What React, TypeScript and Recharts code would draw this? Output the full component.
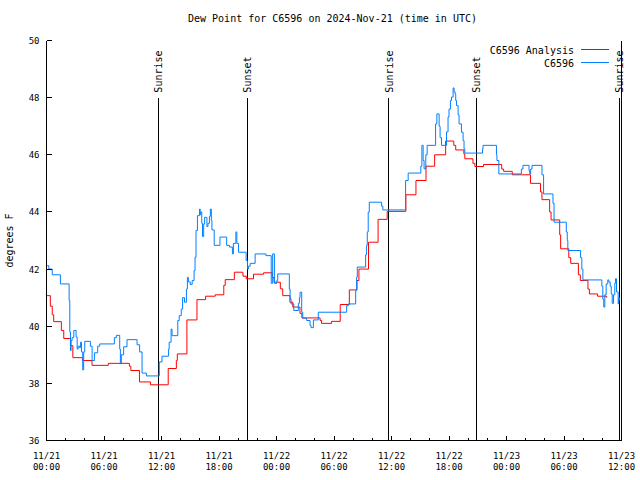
import React from 'react';
import { LineChart, Line, XAxis, YAxis, ReferenceLine, Legend } from 'recharts';

// C6596 Analysis (red), hours since 11/21 00:00 UTC
const analysisHours = [
  0, 0.4, 0.6, 0.75, 1.55, 1.8, 2.5, 2.75, 3.75, 4.75, 6.45, 8.65, 8.8, 9.7, 10.85,
  12.7, 13.55, 13.65, 14.65, 15.7, 16.6, 17.6, 18.5, 18.65, 19.6, 20.5, 20.85, 21.6,
  22.65, 23.55, 23.75, 24.4, 24.65, 25.4, 25.7, 26.45, 26.65, 28.55, 28.7, 29.75,
  30.65, 31.6, 32.4, 32.6, 33.6, 34.6, 35.55, 37.5, 38.55, 39.6, 40.5, 41.65, 42.5,
  42.7, 43.55, 43.65, 44.5, 44.7, 45.6, 47.5, 47.7, 48.6, 50.5, 51.55, 51.7, 52.5,
  52.65, 53.55, 53.65, 54.5, 54.7, 55.5, 55.7, 56.5, 56.65, 57.5, 58.45,
];
const analysisTemps = [
  41.07, 40.7, 40.4, 40.16, 39.85, 39.57, 39.32, 38.9, 38.8, 38.63, 38.7, 38.6, 38.45, 38.05, 37.95,
  38.52, 38.8, 39.03, 40.22, 40.93, 41.05, 41.1, 41.43, 41.63, 41.89, 41.75, 41.66, 41.82,
  41.87, 41.7, 41.54, 41.31, 41.07, 40.84, 40.67, 40.45, 40.29, 40.2, 40.1, 40.17,
  40.76, 41.27, 41.6, 42.0, 42.94, 43.74, 44.02, 44.6, 45.1, 45.6, 46.0, 46.48, 46.33,
  46.17, 46.03, 45.86, 45.7, 45.59, 45.66, 45.5, 45.42, 45.3, 45.0, 44.7, 44.43, 44.0,
  43.72, 43.2, 42.71, 42.4, 42.2, 41.8, 41.6, 41.3, 41.13, 41.05, 41.0,
];

// C6596 observations (blue)
const obsHours = [
  0.07, 0.24, 0.6, 1.45, 2.36, 2.43, 2.5, 2.57, 2.67, 2.85, 3.09, 3.2, 3.3, 3.44, 3.54,
  3.65, 3.78, 3.88, 3.99, 4.58, 4.76, 5.0, 5.34, 5.55, 7.08, 7.29, 7.64, 7.71, 7.81,
  8.05, 8.4, 9.45, 9.72, 9.97, 10.42, 11.77, 12.05, 12.74, 12.8, 13.0, 13.1, 13.7,
  13.85, 14.06, 14.2, 14.4, 14.6, 14.7, 14.8, 15.0, 15.2, 15.4, 15.5, 15.6, 15.75,
  15.97, 16.04, 16.1, 16.2, 16.28, 16.4, 16.5, 16.74, 16.85, 17.0, 17.1, 17.2, 17.26,
  17.5, 18.1, 18.8, 19.1, 19.4, 19.5, 19.76, 19.86, 20.03, 20.83, 20.97, 21.07, 21.25,
  21.77, 22.9, 23.45, 23.6, 23.78, 24.03, 24.13, 25.34, 25.42, 25.52, 25.8, 26.28,
  26.39, 26.46, 26.63, 26.74, 27.15, 27.5, 27.6, 27.85, 28.36, 31.32, 31.5, 32.26,
  32.36, 32.43, 33.3, 33.4, 33.47, 33.57, 33.68, 34.97, 35.1, 37.47, 37.74, 39.06,
  39.17, 39.3, 39.4, 39.58, 39.72, 40.6, 40.73, 40.97, 41.07, 41.22, 41.74, 41.9,
  42.0, 42.15, 42.26, 42.43, 42.53, 42.64, 42.7, 42.78, 42.95, 43.05, 43.3, 43.47,
  43.57, 43.65, 45.5, 45.55, 46.95, 47.0, 47.2, 49.55, 49.72, 50.35, 50.42, 50.52,
  50.66, 51.7, 51.87, 52.85, 52.96, 54.24, 54.34, 54.4, 55.73, 55.86, 55.97, 57.95,
  58.05, 58.15, 58.26, 58.4, 58.57, 58.68, 58.82, 58.93, 59.03, 59.17, 59.3, 59.37,
  59.48, 59.65, 59.7, 59.8,
];
const obsTemps = [
  42.12, 42.0, 41.8, 41.48, 40.9, 39.8, 39.15, 39.5, 39.6, 39.85, 39.62, 39.2, 39.3, 39.25, 39.44,
  39.1, 38.47, 39.1, 39.47, 39.3, 38.8, 39.07, 39.3, 39.38, 39.6, 39.68, 39.2, 38.7, 39.0,
  39.28, 39.53, 39.35, 39.1, 38.36, 38.26, 38.75, 38.95, 39.2, 39.44, 39.9, 39.67, 40.2,
  40.37, 40.6, 41.0, 40.84, 41.3, 41.71, 41.55, 41.46, 41.6, 41.95, 42.41, 43.35, 43.87,
  44.1, 43.9, 44.0, 43.6, 43.14, 43.58, 43.81, 43.49, 43.6, 43.85, 44.1, 43.7, 43.37,
  42.83, 43.12, 42.83, 42.77, 42.53, 42.9, 43.3, 42.9, 42.59, 42.3, 42.0, 42.1, 42.2,
  42.53, 42.47, 41.5, 42.53, 41.5, 41.6, 41.83, 41.3, 40.96, 40.78, 40.55, 40.8,
  41.0, 41.19, 40.49, 40.28, 40.2, 40.03, 39.95, 40.22, 40.49, 40.72, 40.78, 41.25,
  41.72, 42.07, 42.5, 42.83, 43.3, 43.99, 44.34, 44.2, 44.07, 45.1, 45.36, 45.6,
  46.33, 45.8, 45.51, 46.0, 46.33, 47.08, 47.43, 47.0, 46.6, 46.33, 46.8, 47.32,
  47.6, 47.9, 48.02, 48.34, 48.2, 48.13, 47.9, 47.72, 47.4, 47.08, 46.79, 46.5,
  46.21, 46.06, 46.2, 46.33, 46.0, 45.8, 45.33, 45.5, 45.63, 45.45, 45.33, 45.5,
  45.63, 45.3, 44.63, 44.3, 43.64, 43.3, 43.0, 42.65, 42.4, 42.0, 41.62, 41.4,
  40.95, 40.67, 41.1, 41.48, 41.62, 41.55, 41.4, 41.13, 40.8, 41.1, 41.5, 41.66,
  41.2, 40.78, 41.0, 40.9,
];

const seriesNames = ['C6596 Analysis', 'C6596'];

const sunHours = [11.67, 20.94, 35.73, 44.86, 59.79];
const sunLabels = ['Sunrise', 'Sunset', 'Sunrise', 'Sunset', 'Sunrise'];

const majorTicks = [0, 6, 12, 18, 24, 30, 36, 42, 48, 54, 60];
const tickDates = ['11/21', '11/21', '11/21', '11/21', '11/22', '11/22', '11/22', '11/22', '11/23', '11/23', '11/23'];
const tickTimes = ['00:00', '06:00', '12:00', '18:00', '00:00', '06:00', '12:00', '18:00', '00:00', '06:00', '12:00'];
const xTicks = Array.from({ length: 31 }, (_, i) => i * 2);
const yTicks = [36, 38, 40, 42, 44, 46, 48, 50];

const analysisData = analysisHours.map((h, i) => ({ h, v: analysisTemps[i] }));
const obsData = obsHours.map((h, i) => ({ h, v: obsTemps[i] }));

const FONT = '"DejaVu Sans Mono", monospace';

const BottomTick = (props: any) => {
  const { x, y, payload } = props;
  const idx = majorTicks.indexOf(payload.value);
  const major = idx >= 0;
  return (
    <g>
      <line x1={x} y1={y} x2={x} y2={y - (major ? 5 : 3)} stroke="#000" shapeRendering="crispEdges" />
      {major && (
        <text x={x} y={y + 18} textAnchor="middle" fontFamily={FONT} fontSize={9} fill="#000">
          <tspan x={x}>{tickDates[idx]}</tspan>
          <tspan x={x} dy={11}>{tickTimes[idx]}</tspan>
        </text>
      )}
    </g>
  );
};

const TopTick = (props: any) => {
  const { x, y, payload } = props;
  const major = majorTicks.includes(payload.value);
  return <line x1={x} y1={y} x2={x} y2={y + (major ? 5 : 3)} stroke="#000" shapeRendering="crispEdges" />;
};

const LeftTick = (props: any) => {
  const { x, y, payload } = props;
  return (
    <g>
      <line x1={x} y1={y} x2={x + 5} y2={y} stroke="#000" shapeRendering="crispEdges" />
      <text x={x - 7} y={y + 3.5} textAnchor="end" fontFamily={FONT} fontSize={9} fill="#000">
        {payload.value}
      </text>
    </g>
  );
};

const RightTick = (props: any) => {
  const { x, y } = props;
  return <line x1={x} y1={y} x2={x - 5} y2={y} stroke="#000" shapeRendering="crispEdges" />;
};

const SunLabel = (props: any) => {
  const { viewBox, text } = props;
  if (!viewBox) return null;
  return (
    <text
      transform={`translate(${viewBox.x + 4},${viewBox.y - 5}) rotate(-90)`}
      fontFamily={FONT}
      fontSize={10}
      fill="#000"
    >
      {text}
    </text>
  );
};

const renderLegend = (props: any) => {
  const payload = props.payload || [];
  const ordered = seriesNames
    .map((n) => payload.find((p: any) => p.value === n))
    .filter(Boolean);
  return (
    <svg width={640} height={75} style={{ display: 'block' }}>
      {ordered.map((entry: any, i: number) => (
        <g key={`leg-${i}`}>
          <text x={574} y={54 + i * 13} textAnchor="end" fontFamily={FONT} fontSize={10} fill="#000">
            {entry.value}
          </text>
          <line x1={581} x2={609} y1={49.5 + i * 13} y2={49.5 + i * 13} stroke={entry.color} />
        </g>
      ))}
    </svg>
  );
};

export default function App() {
  return (
    <div style={{ position: 'absolute', left: 0, top: 0, width: 640, height: 480, background: '#fff' }}>
      <LineChart width={640} height={480} margin={{ top: 40.5, right: 0, bottom: 0, left: 0 }}>
        <XAxis
          dataKey="h"
          type="number"
          domain={[0, 60]}
          ticks={xTicks}
          interval={0}
          allowDataOverflow
          height={39.5}
          tickSize={0}
          tickMargin={0}
          axisLine={{ stroke: '#000', shapeRendering: 'crispEdges' }}
          tick={<BottomTick />}
        />
        <XAxis
          xAxisId="top"
          orientation="top"
          dataKey="h"
          type="number"
          domain={[0, 60]}
          ticks={xTicks}
          interval={0}
          height={0}
          tickSize={0}
          tickMargin={0}
          axisLine={{ stroke: '#000', shapeRendering: 'crispEdges' }}
          tick={<TopTick />}
        />
        <YAxis
          type="number"
          domain={[36, 50]}
          ticks={yTicks}
          interval={0}
          allowDataOverflow
          width={46.5}
          tickSize={0}
          tickMargin={0}
          axisLine={{ stroke: '#000', shapeRendering: 'crispEdges' }}
          tick={<LeftTick />}
          label={{
            value: 'degrees F',
            angle: -90,
            position: 'insideLeft',
            offset: 0,
            style: { fontFamily: FONT, fontSize: 10, fill: '#000', textAnchor: 'middle' },
            dx: 9,
          }}
        />
        <YAxis
          yAxisId="right"
          orientation="right"
          type="number"
          domain={[36, 50]}
          ticks={yTicks}
          interval={0}
          width={18.5}
          tickSize={0}
          tickMargin={0}
          axisLine={{ stroke: '#000', shapeRendering: 'crispEdges' }}
          tick={<RightTick />}
        />
        {sunHours.map((h, i) => (
          <ReferenceLine
            key={`sun-${i}`}
            segment={[{ x: h, y: 48 }, { x: h, y: 36 }]}
            stroke="#000"
            shapeRendering="crispEdges"
            label={<SunLabel text={sunLabels[i]} />}
          />
        ))}
        <Line
          data={analysisData}
          dataKey="v"
          name={seriesNames[0]}
          type="stepAfter"
          stroke="#ff0000"
          strokeWidth={1}
          dot={false}
          activeDot={false}
          isAnimationActive={false}
        />
        <Line
          data={obsData}
          dataKey="v"
          name={seriesNames[1]}
          type="stepAfter"
          stroke="#0080ff"
          strokeWidth={1}
          dot={false}
          activeDot={false}
          isAnimationActive={false}
        />
        <Legend
          layout="horizontal"
          verticalAlign="middle"
          content={renderLegend}
          wrapperStyle={{ left: 0, top: 0, width: 640, height: 75 }}
        />
      </LineChart>
      <div
        style={{
          position: 'absolute',
          left: 0,
          top: 13,
          width: 665,
          textAlign: 'center',
          fontFamily: FONT,
          fontSize: 10,
          color: '#000',
          pointerEvents: 'none',
        }}
      >
        Dew Point for C6596 on 2024-Nov-21 (time in UTC)
      </div>
    </div>
  );
}
